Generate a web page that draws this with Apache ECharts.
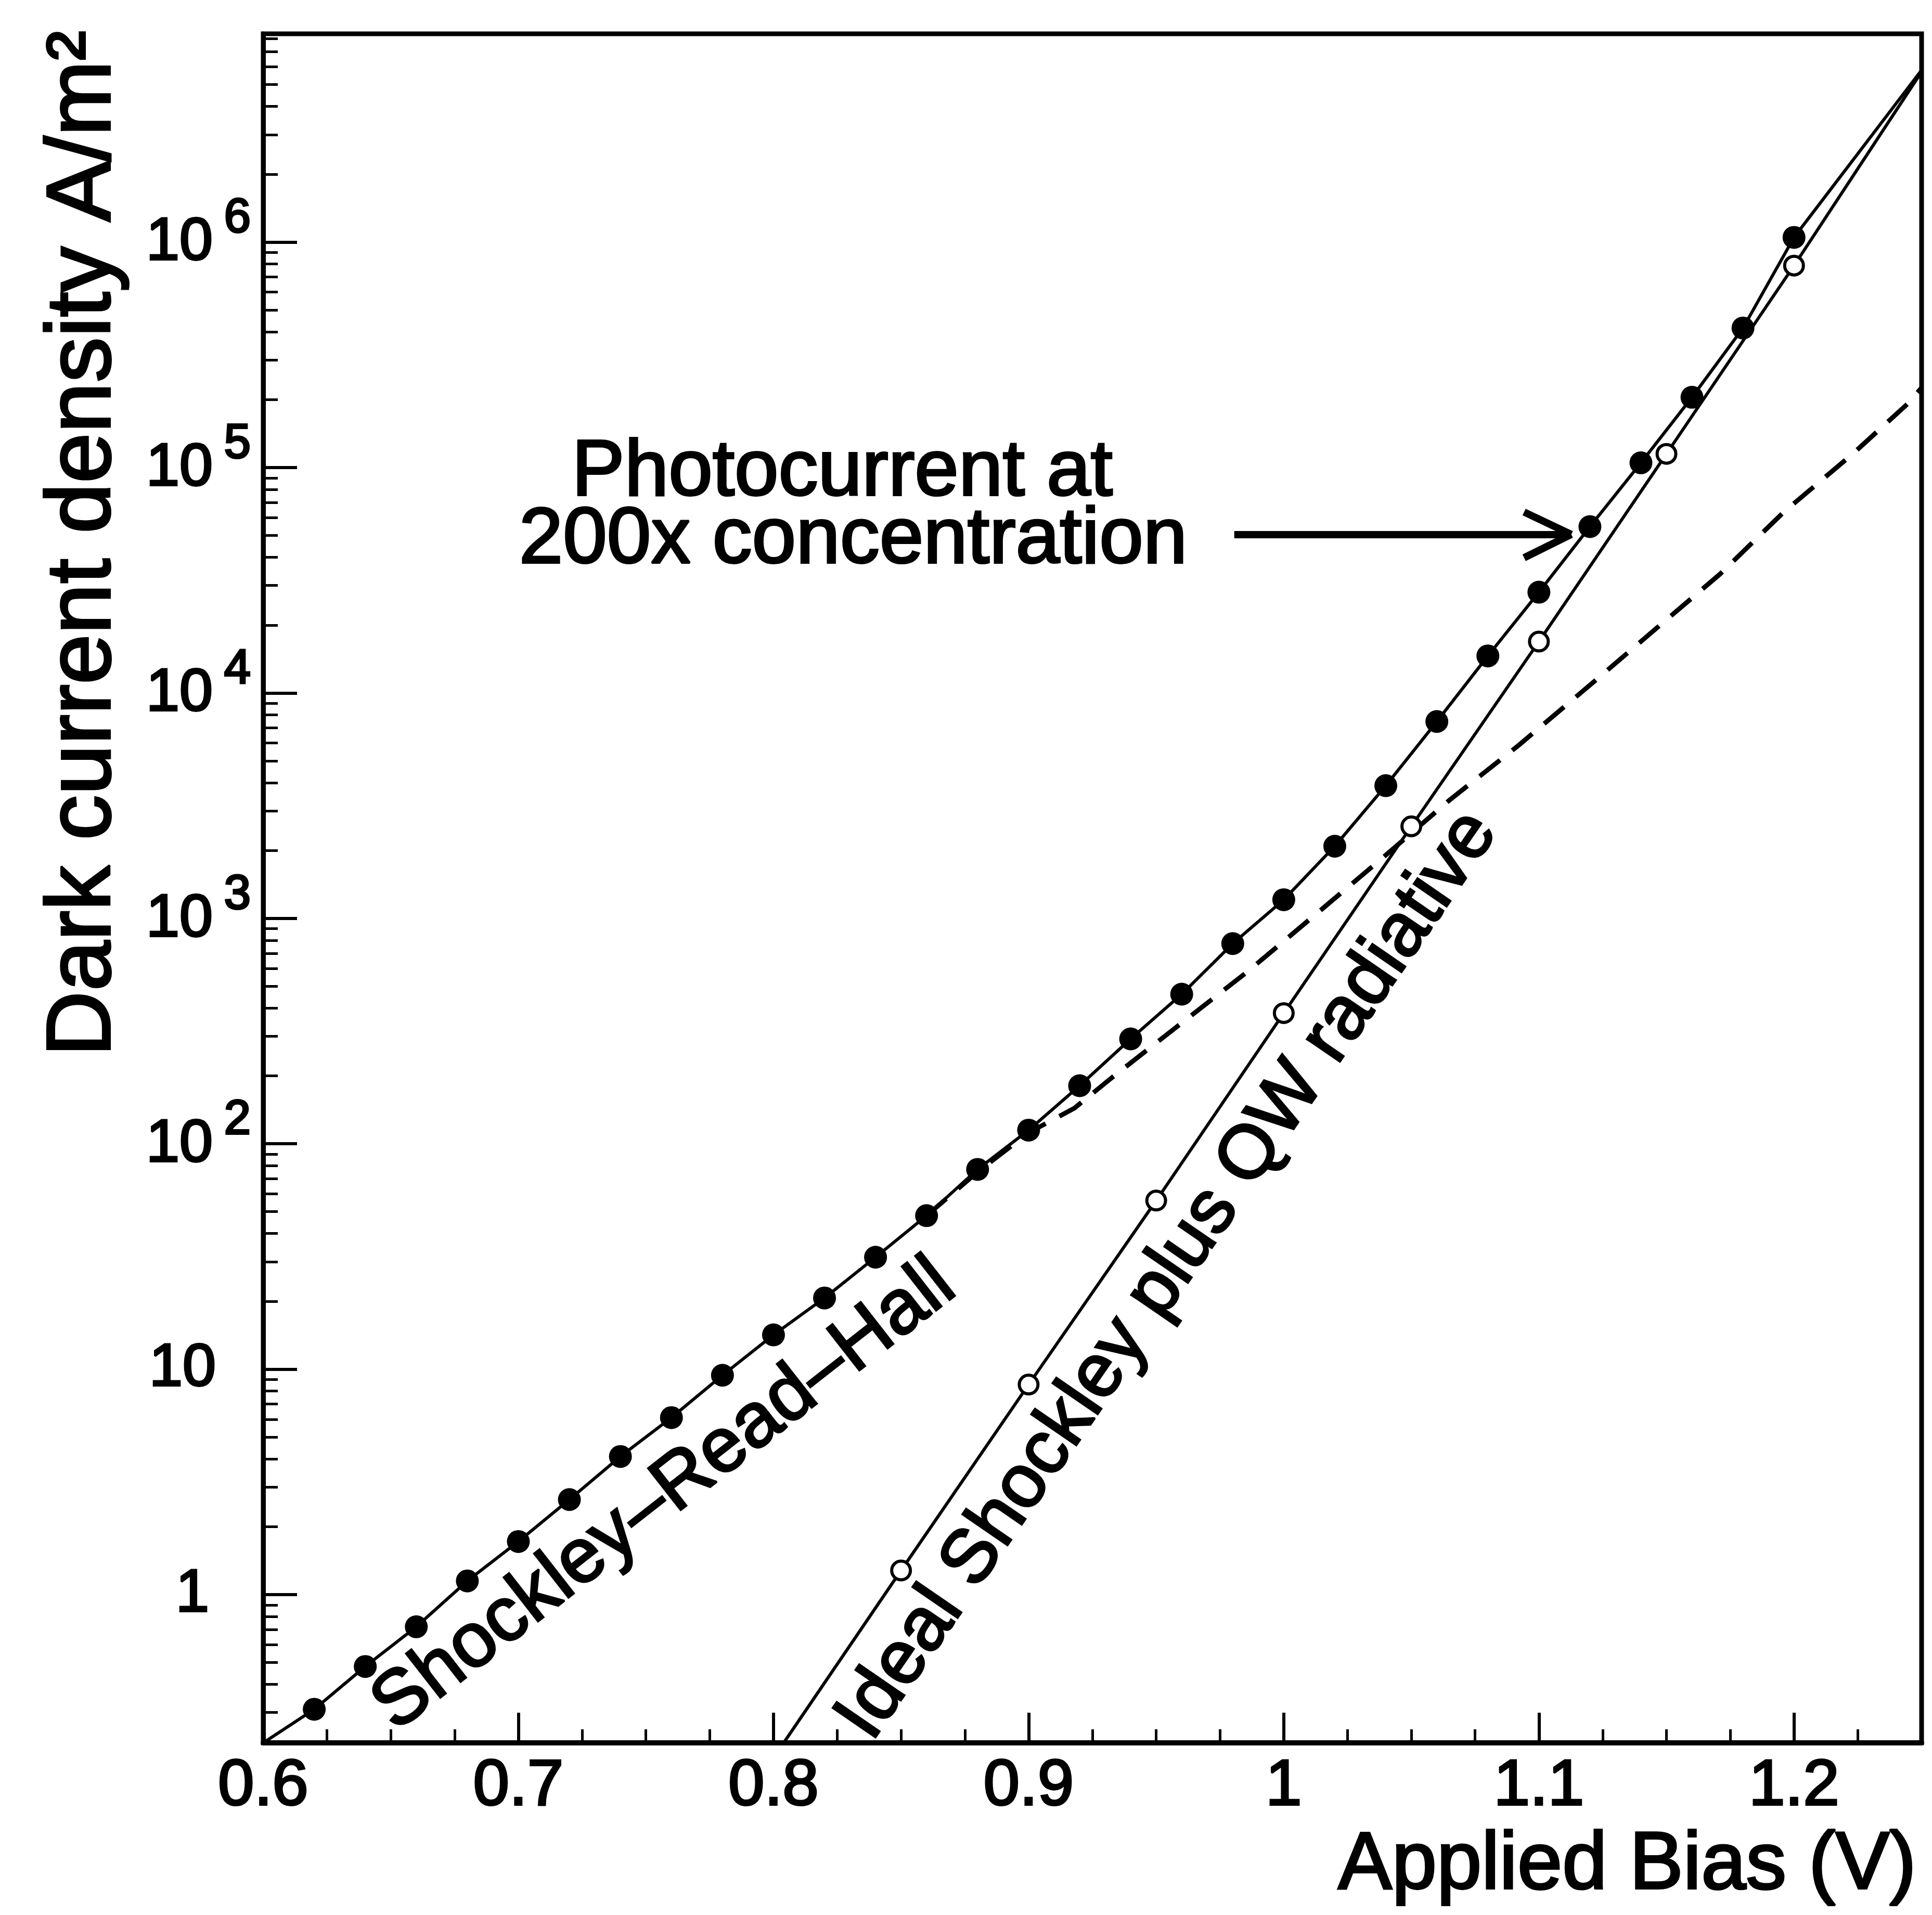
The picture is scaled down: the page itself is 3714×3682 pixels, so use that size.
<!DOCTYPE html>
<html>
<head>
<meta charset="utf-8">
<script src="https://cdn.jsdelivr.net/npm/echarts@6/dist/echarts.min.js"></script>
<style>
html,body{margin:0;padding:0;background:#ffffff;}
#chart{width:3714px;height:3682px;}
</style>
</head>
<body>
<div id="chart"></div>
<script>
// ---- Data (Applied bias in V, current density in A/m^2) ----
// Total dark current (SRH + ideal), filled markers; first/last entries are curve ends without marker
const totalBias = [0.60, 0.62, 0.64, 0.66, 0.68, 0.70, 0.72, 0.74, 0.76, 0.78, 0.80, 0.82, 0.84, 0.86, 0.88,
                   0.90, 0.92, 0.94, 0.96, 0.98, 1.00, 1.02, 1.04, 1.06, 1.08, 1.10, 1.12, 1.14, 1.16, 1.18, 1.20, 1.25];
const totalCurrent = [0.22, 0.31, 0.48, 0.72, 1.15, 1.72, 2.64, 4.1, 6.1, 9.4, 14.2, 20.7, 31.4, 48, 77,
                      115, 181, 292, 461, 773, 1210, 2090, 3880, 7470, 14600, 28000, 54700, 105000, 205000, 416000, 1050000, 5800000];

// Ideal Shockley plus QW radiative, open circles; first/last entries are curve ends without marker
const idealBias = [0.804, 0.85, 0.90, 0.95, 1.00, 1.05, 1.10, 1.15, 1.20, 1.25];
const idealCurrent = [0.22, 1.28, 8.55, 56, 380, 2560, 16900, 115000, 787000, 5700000];

// Shockley-Read-Hall only (dashed)
const srhBias = [0.86, 0.88, 0.90, 0.918, 0.932, 0.958, 0.986, 1.012, 1.039, 1.065, 1.092, 1.119, 1.144, 1.171, 1.196, 1.223, 1.245, 1.25];
const srhCurrent = [48, 75, 112, 144, 194, 330, 583, 1030, 1866, 3350, 5850, 10600, 18500, 33700, 63500, 115000, 194000, 226000];

// Photocurrent arrow (shaft from / to, at one current level) and head arms
const arrowShaftBias = [0.9806, 1.1127];
const arrowCurrent = 50500;
const arrowArmBias = 1.0942;
const arrowArmCurrents = [63500, 39800];

// Axis ranges and tick labels
const xRange = [0.6, 1.25];
const yRange = [0.22, 8.4e6];
const yExponentsLabelled = [0, 1, 2, 3, 4, 5, 6];

const FONT = 'Liberation Sans';
const INK = '#000';
const STROKE = 4;

function pairData(xs, ys, markerSymbol) {
  return xs.map((x, i) => ({
    value: [x, ys[i]],
    symbol: (i === 0 || i === xs.length - 1) ? 'none' : markerSymbol
  }));
}

function txt(extra) {
  return Object.assign({fontFamily: FONT, fill: INK, stroke: INK, lineWidth: STROKE,
                        align: 'center', verticalAlign: 'middle'}, extra);
}

const chart = echarts.init(document.getElementById('chart'), null, {renderer: 'canvas'});

const option = {
  animation: false,
  backgroundColor: '#ffffff',
  grid: {
    left: 506, right: 20, top: 65, bottom: 331,
    show: true, borderColor: INK, borderWidth: 9, backgroundColor: 'transparent'
  },
  xAxis: {
    type: 'value',
    min: xRange[0], max: xRange[1], interval: 0.1,
    axisLine: {show: true, onZero: false, lineStyle: {color: INK, width: 10}},
    axisTick: {show: true, inside: true, length: 58, lineStyle: {color: INK, width: 6}},
    minorTick: {show: true, splitNumber: 4, length: 26, lineStyle: {color: INK, width: 5}},
    splitLine: {show: false},
    minorSplitLine: {show: false},
    axisLabel: {
      show: true, margin: 22, color: INK, fontSize: 125, fontFamily: FONT,
      textBorderColor: INK, textBorderWidth: STROKE,
      formatter: function (v) {
        if (Math.abs(v * 10 - Math.round(v * 10)) > 1e-6) return '';
        return String(+v.toFixed(1));
      }
    }
  },
  yAxis: {
    type: 'log', logBase: 10,
    min: yRange[0], max: yRange[1],
    axisLine: {show: true, onZero: false, lineStyle: {color: INK, width: 9}},
    axisTick: {show: true, inside: true, length: 65, lineStyle: {color: INK, width: 6}},
    minorTick: {show: true, splitNumber: 9, length: 28, lineStyle: {color: INK, width: 5}},
    splitLine: {show: false},
    minorSplitLine: {show: false},
    axisLabel: {
      show: true, margin: 24, color: INK, fontFamily: FONT, fontSize: 115,
      textBorderColor: INK, textBorderWidth: STROKE,
      formatter: function (v) {
        const e = Math.log10(v);
        const n = Math.round(e);
        if (Math.abs(e - n) > 1e-6 || yExponentsLabelled.indexOf(n) < 0) return '';
        if (n === 0) return '{p1|1}';
        if (n === 1) return '{p10|10}';
        return '{b|10}{s|' + n + '}';
      },
      rich: {
        p1: {fontSize: 115, fontFamily: FONT, color: INK, textBorderColor: INK, textBorderWidth: STROKE, padding: [0, 80, 0, 0]},
        p10: {fontSize: 115, fontFamily: FONT, color: INK, textBorderColor: INK, textBorderWidth: STROKE, padding: [0, 67, 0, 0]},
        b: {fontSize: 115, fontFamily: FONT, color: INK, textBorderColor: INK, textBorderWidth: STROKE, verticalAlign: 'bottom', padding: [0, 0, 31, 0]},
        s: {fontSize: 92, fontFamily: FONT, color: INK, textBorderColor: INK, textBorderWidth: STROKE, verticalAlign: 'bottom', padding: [0, 0, 89, 22]}
      }
    }
  },
  series: [
    {
      name: 'Total',
      type: 'line',
      data: pairData(totalBias, totalCurrent, 'circle'),
      symbolSize: 44,
      itemStyle: {color: INK},
      lineStyle: {color: INK, width: 6},
      z: 4,
      silent: true,
      markLine: {
        silent: true,
        animation: false,
        symbol: 'none',
        label: {show: false},
        lineStyle: {color: INK, width: 14, type: 'solid'},
        data: [
          [{coord: [arrowShaftBias[0], arrowCurrent]}, {coord: [arrowShaftBias[1], arrowCurrent]}],
          [{coord: [arrowArmBias, arrowArmCurrents[0]]}, {coord: [arrowShaftBias[1], arrowCurrent]}],
          [{coord: [arrowArmBias, arrowArmCurrents[1]]}, {coord: [arrowShaftBias[1], arrowCurrent]}]
        ]
      }
    },
    {
      name: 'Ideal Shockley plus QW radiative',
      type: 'line',
      data: pairData(idealBias, idealCurrent, 'circle'),
      symbolSize: 36,
      itemStyle: {color: '#fff', borderColor: INK, borderWidth: 6},
      lineStyle: {color: INK, width: 6},
      z: 3,
      silent: true
    },
    {
      name: 'Shockley-Read-Hall',
      type: 'line',
      data: srhBias.map((x, i) => [x, srhCurrent[i]]),
      symbol: 'none',
      lineStyle: {color: INK, width: 9, type: [50, 30]},
      z: 2,
      silent: true
    }
  ],
  graphic: [
    {type: 'text', x: 163, y: 1045, rotation: Math.PI / 2, silent: true,
     style: txt({text: 'Dark current density A/m²', fontSize: 174})},
    {type: 'text', x: 3128, y: 3588, silent: true,
     style: txt({text: 'Applied Bias (V)', fontSize: 155})},
    {type: 'text', x: 1619, y: 910, silent: true,
     style: txt({text: 'Photocurrent at', fontSize: 152})},
    {type: 'text', x: 1640, y: 1040, silent: true,
     style: txt({text: '200x concentration', fontSize: 152})},
    {type: 'text', x: 1277, y: 2876, rotation: 38 * Math.PI / 180, silent: true,
     style: txt({text: 'Shockley–Read–Hall', fontSize: 148})},
    {type: 'text', x: 2245, y: 2452, rotation: 55.5 * Math.PI / 180, silent: true,
     style: txt({text: 'Ideal Shockley plus QW radiative', fontSize: 145})}
  ]
};

chart.setOption(option);
</script>
</body>
</html>
